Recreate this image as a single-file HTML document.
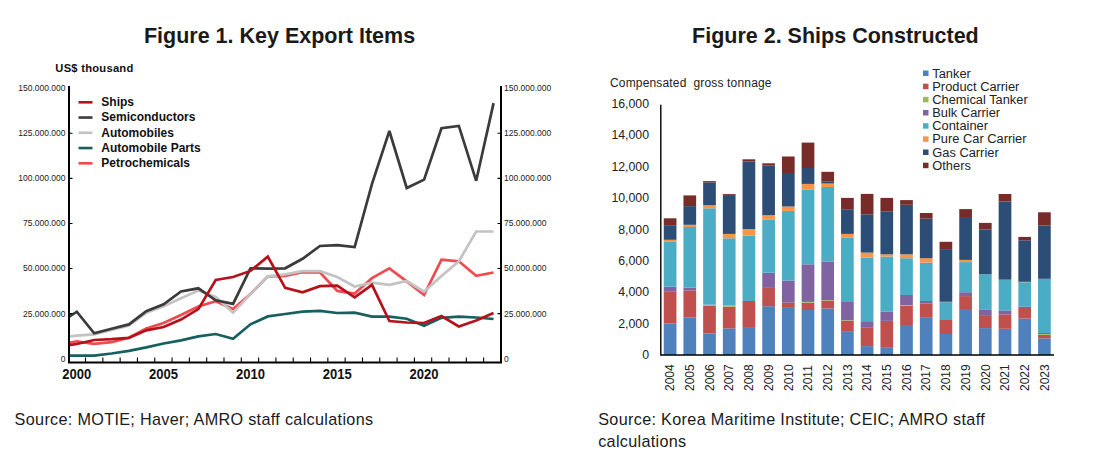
<!DOCTYPE html>
<html><head><meta charset="utf-8"><title>Figures</title>
<style>html,body{margin:0;padding:0;background:#fff;width:1105px;height:460px;overflow:hidden}svg{display:block}</style>
</head><body>
<svg width="1105" height="460" viewBox="0 0 1105 460" font-family='"Liberation Sans", sans-serif'>
<rect width="1105" height="460" fill="#fff"/>
<text x="279.5" y="42.7" text-anchor="middle" font-size="21.5" font-weight="bold" fill="#1a1a1a">Figure 1. Key Export Items</text>
<text x="835.4" y="42.7" text-anchor="middle" font-size="21.5" font-weight="bold" fill="#1a1a1a">Figure 2. Ships Constructed</text>
<defs><clipPath id="lc"><rect x="69.0" y="60" width="432.0" height="302.4"/></clipPath></defs>
<g clip-path="url(#lc)" fill="none" stroke-width="2.7" stroke-linejoin="miter" stroke-miterlimit="3">
<path d="M59.44,344.70 L76.80,341.30 L94.16,343.90 L111.53,342.20 L128.89,337.80 L146.26,328.40 L163.62,323.00 L180.99,315.00 L198.35,306.50 L215.72,301.30 L233.08,309.10 L250.45,294.00 L267.81,276.40 L285.18,276.00 L302.54,272.30 L319.91,272.30 L337.27,290.90 L354.64,293.50 L372.00,278.20 L389.37,268.30 L406.73,281.30 L424.10,294.90 L441.46,259.60 L458.83,261.30 L476.19,275.80 L493.56,272.50" stroke="#EF4A4F"/>
<path d="M59.44,355.60 L76.80,355.60 L94.16,355.70 L111.53,353.50 L128.89,350.90 L146.26,347.40 L163.62,343.50 L180.99,340.40 L198.35,336.40 L215.72,334.00 L233.08,338.70 L250.45,324.30 L267.81,316.40 L285.18,314.00 L302.54,311.70 L319.91,310.90 L337.27,313.00 L354.64,312.60 L372.00,316.60 L389.37,316.60 L406.73,318.70 L424.10,325.70 L441.46,317.80 L458.83,316.60 L476.19,317.50 L493.56,319.00" stroke="#16615F"/>
<path d="M59.44,337.60 L76.80,335.60 L94.16,334.30 L111.53,330.00 L128.89,325.50 L146.26,312.80 L163.62,306.30 L180.99,298.20 L198.35,290.60 L215.72,297.00 L233.08,312.60 L250.45,294.00 L267.81,276.40 L285.18,274.30 L302.54,271.20 L319.91,271.20 L337.27,277.00 L354.64,286.50 L372.00,282.70 L389.37,284.80 L406.73,281.00 L424.10,291.70 L441.46,276.00 L458.83,261.30 L476.19,231.50 L493.56,231.50" stroke="#C3C3C3"/>
<path d="M59.44,323.00 L76.80,311.70 L94.16,333.30 L111.53,328.70 L128.89,324.40 L146.26,311.20 L163.62,304.30 L180.99,291.50 L198.35,288.30 L215.72,300.30 L233.08,303.90 L250.45,268.30 L267.81,268.60 L285.18,268.30 L302.54,258.80 L319.91,246.00 L337.27,245.20 L354.64,247.00 L372.00,183.90 L389.37,131.00 L406.73,188.00 L424.10,179.60 L441.46,128.20 L458.83,125.90 L476.19,180.80 L493.56,103.10" stroke="#3B3B3B"/>
<path d="M59.44,346.60 L76.80,344.00 L94.16,340.00 L111.53,339.20 L128.89,337.80 L146.26,330.30 L163.62,327.00 L180.99,319.60 L198.35,309.10 L215.72,280.00 L233.08,277.00 L250.45,270.90 L267.81,256.60 L285.18,287.90 L302.54,292.30 L319.91,286.20 L337.27,285.70 L354.64,297.30 L372.00,284.80 L389.37,321.00 L406.73,322.50 L424.10,323.00 L441.46,316.00 L458.83,326.50 L476.19,320.40 L493.56,313.00" stroke="#B5121B"/>
</g>
<path d="M69.0,86.0 V362.4 H501.0 V86.0" fill="none" stroke="#000" stroke-width="2"/>
<path d="M69.0,313.62 h3.5 M501.0,313.62 h-3.5 M69.0,268.54 h3.5 M501.0,268.54 h-3.5 M69.0,223.46 h3.5 M501.0,223.46 h-3.5 M69.0,178.38 h3.5 M501.0,178.38 h-3.5 M69.0,133.30 h3.5 M501.0,133.30 h-3.5 M85.51,362.4 v-5 M102.82,362.4 v-5 M120.13,362.4 v-5 M137.44,362.4 v-5 M154.75,362.4 v-5 M172.06,362.4 v-5 M189.37,362.4 v-5 M206.68,362.4 v-5 M223.99,362.4 v-5 M241.30,362.4 v-5 M258.61,362.4 v-5 M275.92,362.4 v-5 M293.23,362.4 v-5 M310.54,362.4 v-5 M327.85,362.4 v-5 M345.16,362.4 v-5 M362.47,362.4 v-5 M379.78,362.4 v-5 M397.09,362.4 v-5 M414.40,362.4 v-5 M431.71,362.4 v-5 M449.02,362.4 v-5 M466.33,362.4 v-5 M483.64,362.4 v-5" stroke="#000" stroke-width="1.1" fill="none"/>
<text x="65.5" y="361.60" text-anchor="end" font-size="8.5" fill="#222">0</text>
<text x="504" y="361.60" font-size="8.5" fill="#222">0</text>
<text x="65.5" y="316.52" text-anchor="end" font-size="8.5" fill="#222">25.000.000</text>
<text x="504" y="316.52" font-size="8.5" fill="#222">25.000.000</text>
<text x="65.5" y="271.44" text-anchor="end" font-size="8.5" fill="#222">50.000.000</text>
<text x="504" y="271.44" font-size="8.5" fill="#222">50.000.000</text>
<text x="65.5" y="226.36" text-anchor="end" font-size="8.5" fill="#222">75.000.000</text>
<text x="504" y="226.36" font-size="8.5" fill="#222">75.000.000</text>
<text x="65.5" y="181.28" text-anchor="end" font-size="8.5" fill="#222">100.000.000</text>
<text x="504" y="181.28" font-size="8.5" fill="#222">100.000.000</text>
<text x="65.5" y="136.20" text-anchor="end" font-size="8.5" fill="#222">125.000.000</text>
<text x="504" y="136.20" font-size="8.5" fill="#222">125.000.000</text>
<text x="65.5" y="91.12" text-anchor="end" font-size="8.5" fill="#222">150.000.000</text>
<text x="504" y="91.12" font-size="8.5" fill="#222">150.000.000</text>
<text x="76.80" y="378.7" text-anchor="middle" font-size="13.8" font-weight="bold" fill="#111" textLength="29" lengthAdjust="spacingAndGlyphs">2000</text>
<text x="163.62" y="378.7" text-anchor="middle" font-size="13.8" font-weight="bold" fill="#111" textLength="29" lengthAdjust="spacingAndGlyphs">2005</text>
<text x="250.45" y="378.7" text-anchor="middle" font-size="13.8" font-weight="bold" fill="#111" textLength="29" lengthAdjust="spacingAndGlyphs">2010</text>
<text x="337.27" y="378.7" text-anchor="middle" font-size="13.8" font-weight="bold" fill="#111" textLength="29" lengthAdjust="spacingAndGlyphs">2015</text>
<text x="424.10" y="378.7" text-anchor="middle" font-size="13.8" font-weight="bold" fill="#111" textLength="29" lengthAdjust="spacingAndGlyphs">2020</text>
<path d="M78.5,102.30 h14" stroke="#B5121B" stroke-width="2.6"/>
<text x="101.3" y="106.10" font-size="12" font-weight="bold" fill="#111">Ships</text>
<path d="M78.5,117.55 h14" stroke="#3B3B3B" stroke-width="2.6"/>
<text x="101.3" y="121.35" font-size="12" font-weight="bold" fill="#111">Semiconductors</text>
<path d="M78.5,132.80 h14" stroke="#C3C3C3" stroke-width="2.6"/>
<text x="101.3" y="136.60" font-size="12" font-weight="bold" fill="#111">Automobiles</text>
<path d="M78.5,148.05 h14" stroke="#16615F" stroke-width="2.6"/>
<text x="101.3" y="151.85" font-size="12" font-weight="bold" fill="#111">Automobile Parts</text>
<path d="M78.5,163.30 h14" stroke="#EF4A4F" stroke-width="2.6"/>
<text x="101.3" y="167.10" font-size="12" font-weight="bold" fill="#111">Petrochemicals</text>
<text x="55.3" y="71.5" font-size="11.2" font-weight="bold" fill="#111" textLength="78" lengthAdjust="spacing">US$ thousand</text>
<rect x="663.75" y="323.50" width="12.7" height="31.50" fill="#4F81BD"/>
<rect x="663.75" y="291.80" width="12.7" height="31.70" fill="#C0504D"/>
<rect x="663.75" y="286.60" width="12.7" height="5.20" fill="#8064A2"/>
<rect x="663.75" y="241.30" width="12.7" height="45.30" fill="#4BACC6"/>
<rect x="663.75" y="239.80" width="12.7" height="1.50" fill="#F79646"/>
<rect x="663.75" y="225.20" width="12.7" height="14.60" fill="#2C4D75"/>
<rect x="663.75" y="218.30" width="12.7" height="6.90" fill="#772C2A"/>
<text transform="translate(674.30,391) rotate(-90)" font-size="12" fill="#222">2004</text>
<rect x="683.45" y="317.30" width="12.7" height="37.70" fill="#4F81BD"/>
<rect x="683.45" y="290.40" width="12.7" height="26.90" fill="#C0504D"/>
<rect x="683.45" y="287.60" width="12.7" height="2.80" fill="#8064A2"/>
<rect x="683.45" y="227.00" width="12.7" height="60.60" fill="#4BACC6"/>
<rect x="683.45" y="224.80" width="12.7" height="2.20" fill="#F79646"/>
<rect x="683.45" y="206.10" width="12.7" height="18.70" fill="#2C4D75"/>
<rect x="683.45" y="195.40" width="12.7" height="10.70" fill="#772C2A"/>
<text transform="translate(694.00,391) rotate(-90)" font-size="12" fill="#222">2005</text>
<rect x="703.15" y="333.40" width="12.7" height="21.60" fill="#4F81BD"/>
<rect x="703.15" y="305.70" width="12.7" height="27.70" fill="#C0504D"/>
<rect x="703.15" y="304.90" width="12.7" height="0.80" fill="#9BBB59"/>
<rect x="703.15" y="304.60" width="12.7" height="0.30" fill="#8064A2"/>
<rect x="703.15" y="208.30" width="12.7" height="96.30" fill="#4BACC6"/>
<rect x="703.15" y="205.20" width="12.7" height="3.10" fill="#F79646"/>
<rect x="703.15" y="182.40" width="12.7" height="22.80" fill="#2C4D75"/>
<rect x="703.15" y="181.10" width="12.7" height="1.30" fill="#772C2A"/>
<text transform="translate(713.70,391) rotate(-90)" font-size="12" fill="#222">2006</text>
<rect x="722.85" y="328.30" width="12.7" height="26.70" fill="#4F81BD"/>
<rect x="722.85" y="306.60" width="12.7" height="21.70" fill="#C0504D"/>
<rect x="722.85" y="305.60" width="12.7" height="1.00" fill="#9BBB59"/>
<rect x="722.85" y="305.40" width="12.7" height="0.20" fill="#8064A2"/>
<rect x="722.85" y="238.30" width="12.7" height="67.10" fill="#4BACC6"/>
<rect x="722.85" y="233.90" width="12.7" height="4.40" fill="#F79646"/>
<rect x="722.85" y="195.90" width="12.7" height="38.00" fill="#2C4D75"/>
<rect x="722.85" y="194.10" width="12.7" height="1.80" fill="#772C2A"/>
<text transform="translate(733.40,391) rotate(-90)" font-size="12" fill="#222">2007</text>
<rect x="742.55" y="327.90" width="12.7" height="27.10" fill="#4F81BD"/>
<rect x="742.55" y="301.00" width="12.7" height="26.90" fill="#C0504D"/>
<rect x="742.55" y="235.70" width="12.7" height="65.30" fill="#4BACC6"/>
<rect x="742.55" y="229.00" width="12.7" height="6.70" fill="#F79646"/>
<rect x="742.55" y="161.50" width="12.7" height="67.50" fill="#2C4D75"/>
<rect x="742.55" y="159.30" width="12.7" height="2.20" fill="#772C2A"/>
<text transform="translate(753.10,391) rotate(-90)" font-size="12" fill="#222">2008</text>
<rect x="762.25" y="306.20" width="12.7" height="48.80" fill="#4F81BD"/>
<rect x="762.25" y="287.90" width="12.7" height="18.30" fill="#C0504D"/>
<rect x="762.25" y="272.70" width="12.7" height="15.20" fill="#8064A2"/>
<rect x="762.25" y="219.80" width="12.7" height="52.90" fill="#4BACC6"/>
<rect x="762.25" y="215.20" width="12.7" height="4.60" fill="#F79646"/>
<rect x="762.25" y="165.40" width="12.7" height="49.80" fill="#2C4D75"/>
<rect x="762.25" y="163.30" width="12.7" height="2.10" fill="#772C2A"/>
<text transform="translate(772.80,391) rotate(-90)" font-size="12" fill="#222">2009</text>
<rect x="781.95" y="307.90" width="12.7" height="47.10" fill="#4F81BD"/>
<rect x="781.95" y="302.70" width="12.7" height="5.20" fill="#C0504D"/>
<rect x="781.95" y="280.50" width="12.7" height="22.20" fill="#8064A2"/>
<rect x="781.95" y="210.90" width="12.7" height="69.60" fill="#4BACC6"/>
<rect x="781.95" y="206.50" width="12.7" height="4.40" fill="#F79646"/>
<rect x="781.95" y="173.00" width="12.7" height="33.50" fill="#2C4D75"/>
<rect x="781.95" y="156.50" width="12.7" height="16.50" fill="#772C2A"/>
<text transform="translate(792.50,391) rotate(-90)" font-size="12" fill="#222">2010</text>
<rect x="801.65" y="310.00" width="12.7" height="45.00" fill="#4F81BD"/>
<rect x="801.65" y="302.70" width="12.7" height="7.30" fill="#C0504D"/>
<rect x="801.65" y="301.90" width="12.7" height="0.80" fill="#9BBB59"/>
<rect x="801.65" y="264.30" width="12.7" height="37.60" fill="#8064A2"/>
<rect x="801.65" y="189.80" width="12.7" height="74.50" fill="#4BACC6"/>
<rect x="801.65" y="183.90" width="12.7" height="5.90" fill="#F79646"/>
<rect x="801.65" y="168.00" width="12.7" height="15.90" fill="#2C4D75"/>
<rect x="801.65" y="142.60" width="12.7" height="25.40" fill="#772C2A"/>
<text transform="translate(812.20,391) rotate(-90)" font-size="12" fill="#222">2011</text>
<rect x="821.35" y="308.50" width="12.7" height="46.50" fill="#4F81BD"/>
<rect x="821.35" y="300.50" width="12.7" height="8.00" fill="#C0504D"/>
<rect x="821.35" y="300.00" width="12.7" height="0.50" fill="#9BBB59"/>
<rect x="821.35" y="261.80" width="12.7" height="38.20" fill="#8064A2"/>
<rect x="821.35" y="187.00" width="12.7" height="74.80" fill="#4BACC6"/>
<rect x="821.35" y="183.50" width="12.7" height="3.50" fill="#F79646"/>
<rect x="821.35" y="181.70" width="12.7" height="1.80" fill="#2C4D75"/>
<rect x="821.35" y="171.80" width="12.7" height="9.90" fill="#772C2A"/>
<text transform="translate(831.90,391) rotate(-90)" font-size="12" fill="#222">2012</text>
<rect x="841.05" y="331.80" width="12.7" height="23.20" fill="#4F81BD"/>
<rect x="841.05" y="320.90" width="12.7" height="10.90" fill="#C0504D"/>
<rect x="841.05" y="320.30" width="12.7" height="0.60" fill="#9BBB59"/>
<rect x="841.05" y="302.00" width="12.7" height="18.30" fill="#8064A2"/>
<rect x="841.05" y="237.80" width="12.7" height="64.20" fill="#4BACC6"/>
<rect x="841.05" y="233.90" width="12.7" height="3.90" fill="#F79646"/>
<rect x="841.05" y="209.20" width="12.7" height="24.70" fill="#2C4D75"/>
<rect x="841.05" y="197.90" width="12.7" height="11.30" fill="#772C2A"/>
<text transform="translate(851.60,391) rotate(-90)" font-size="12" fill="#222">2013</text>
<rect x="860.75" y="346.10" width="12.7" height="8.90" fill="#4F81BD"/>
<rect x="860.75" y="327.80" width="12.7" height="18.30" fill="#C0504D"/>
<rect x="860.75" y="321.20" width="12.7" height="6.60" fill="#8064A2"/>
<rect x="860.75" y="257.50" width="12.7" height="63.70" fill="#4BACC6"/>
<rect x="860.75" y="252.60" width="12.7" height="4.90" fill="#F79646"/>
<rect x="860.75" y="214.30" width="12.7" height="38.30" fill="#2C4D75"/>
<rect x="860.75" y="193.90" width="12.7" height="20.40" fill="#772C2A"/>
<text transform="translate(871.30,391) rotate(-90)" font-size="12" fill="#222">2014</text>
<rect x="880.45" y="347.80" width="12.7" height="7.20" fill="#4F81BD"/>
<rect x="880.45" y="320.90" width="12.7" height="26.90" fill="#C0504D"/>
<rect x="880.45" y="311.80" width="12.7" height="9.10" fill="#8064A2"/>
<rect x="880.45" y="256.60" width="12.7" height="55.20" fill="#4BACC6"/>
<rect x="880.45" y="254.30" width="12.7" height="2.30" fill="#F79646"/>
<rect x="880.45" y="211.70" width="12.7" height="42.60" fill="#2C4D75"/>
<rect x="880.45" y="197.90" width="12.7" height="13.80" fill="#772C2A"/>
<text transform="translate(891.00,391) rotate(-90)" font-size="12" fill="#222">2015</text>
<rect x="900.15" y="325.00" width="12.7" height="30.00" fill="#4F81BD"/>
<rect x="900.15" y="305.70" width="12.7" height="19.30" fill="#C0504D"/>
<rect x="900.15" y="305.20" width="12.7" height="0.50" fill="#9BBB59"/>
<rect x="900.15" y="295.00" width="12.7" height="10.20" fill="#8064A2"/>
<rect x="900.15" y="258.20" width="12.7" height="36.80" fill="#4BACC6"/>
<rect x="900.15" y="254.30" width="12.7" height="3.90" fill="#F79646"/>
<rect x="900.15" y="204.80" width="12.7" height="49.50" fill="#2C4D75"/>
<rect x="900.15" y="200.10" width="12.7" height="4.70" fill="#772C2A"/>
<text transform="translate(910.70,391) rotate(-90)" font-size="12" fill="#222">2016</text>
<rect x="919.85" y="317.80" width="12.7" height="37.20" fill="#4F81BD"/>
<rect x="919.85" y="303.60" width="12.7" height="14.20" fill="#C0504D"/>
<rect x="919.85" y="301.00" width="12.7" height="2.60" fill="#8064A2"/>
<rect x="919.85" y="262.60" width="12.7" height="38.40" fill="#4BACC6"/>
<rect x="919.85" y="258.20" width="12.7" height="4.40" fill="#F79646"/>
<rect x="919.85" y="218.70" width="12.7" height="39.50" fill="#2C4D75"/>
<rect x="919.85" y="213.00" width="12.7" height="5.70" fill="#772C2A"/>
<text transform="translate(930.40,391) rotate(-90)" font-size="12" fill="#222">2017</text>
<rect x="939.55" y="334.00" width="12.7" height="21.00" fill="#4F81BD"/>
<rect x="939.55" y="320.00" width="12.7" height="14.00" fill="#C0504D"/>
<rect x="939.55" y="302.10" width="12.7" height="17.90" fill="#4BACC6"/>
<rect x="939.55" y="301.80" width="12.7" height="0.30" fill="#F79646"/>
<rect x="939.55" y="249.10" width="12.7" height="52.70" fill="#2C4D75"/>
<rect x="939.55" y="241.80" width="12.7" height="7.30" fill="#772C2A"/>
<text transform="translate(950.10,391) rotate(-90)" font-size="12" fill="#222">2018</text>
<rect x="959.25" y="309.00" width="12.7" height="46.00" fill="#4F81BD"/>
<rect x="959.25" y="296.10" width="12.7" height="12.90" fill="#C0504D"/>
<rect x="959.25" y="292.20" width="12.7" height="3.90" fill="#8064A2"/>
<rect x="959.25" y="262.10" width="12.7" height="30.10" fill="#4BACC6"/>
<rect x="959.25" y="259.90" width="12.7" height="2.20" fill="#F79646"/>
<rect x="959.25" y="217.00" width="12.7" height="42.90" fill="#2C4D75"/>
<rect x="959.25" y="209.10" width="12.7" height="7.90" fill="#772C2A"/>
<text transform="translate(969.80,391) rotate(-90)" font-size="12" fill="#222">2019</text>
<rect x="978.95" y="328.10" width="12.7" height="26.90" fill="#4F81BD"/>
<rect x="978.95" y="315.10" width="12.7" height="13.00" fill="#C0504D"/>
<rect x="978.95" y="309.90" width="12.7" height="5.20" fill="#8064A2"/>
<rect x="978.95" y="274.30" width="12.7" height="35.60" fill="#4BACC6"/>
<rect x="978.95" y="229.40" width="12.7" height="44.90" fill="#2C4D75"/>
<rect x="978.95" y="222.90" width="12.7" height="6.50" fill="#772C2A"/>
<text transform="translate(989.50,391) rotate(-90)" font-size="12" fill="#222">2020</text>
<rect x="998.65" y="328.80" width="12.7" height="26.20" fill="#4F81BD"/>
<rect x="998.65" y="314.40" width="12.7" height="14.40" fill="#C0504D"/>
<rect x="998.65" y="310.40" width="12.7" height="4.00" fill="#8064A2"/>
<rect x="998.65" y="280.00" width="12.7" height="30.40" fill="#4BACC6"/>
<rect x="998.65" y="279.70" width="12.7" height="0.30" fill="#F79646"/>
<rect x="998.65" y="201.50" width="12.7" height="78.20" fill="#2C4D75"/>
<rect x="998.65" y="194.00" width="12.7" height="7.50" fill="#772C2A"/>
<text transform="translate(1009.20,391) rotate(-90)" font-size="12" fill="#222">2021</text>
<rect x="1018.35" y="318.60" width="12.7" height="36.40" fill="#4F81BD"/>
<rect x="1018.35" y="307.00" width="12.7" height="11.60" fill="#C0504D"/>
<rect x="1018.35" y="306.80" width="12.7" height="0.20" fill="#8064A2"/>
<rect x="1018.35" y="282.20" width="12.7" height="24.60" fill="#4BACC6"/>
<rect x="1018.35" y="281.80" width="12.7" height="0.40" fill="#F79646"/>
<rect x="1018.35" y="240.30" width="12.7" height="41.50" fill="#2C4D75"/>
<rect x="1018.35" y="236.90" width="12.7" height="3.40" fill="#772C2A"/>
<text transform="translate(1028.90,391) rotate(-90)" font-size="12" fill="#222">2022</text>
<rect x="1038.05" y="338.30" width="12.7" height="16.70" fill="#4F81BD"/>
<rect x="1038.05" y="334.80" width="12.7" height="3.50" fill="#C0504D"/>
<rect x="1038.05" y="334.00" width="12.7" height="0.80" fill="#9BBB59"/>
<rect x="1038.05" y="333.00" width="12.7" height="1.00" fill="#8064A2"/>
<rect x="1038.05" y="278.80" width="12.7" height="54.20" fill="#4BACC6"/>
<rect x="1038.05" y="225.40" width="12.7" height="53.40" fill="#2C4D75"/>
<rect x="1038.05" y="212.30" width="12.7" height="13.10" fill="#772C2A"/>
<text transform="translate(1048.60,391) rotate(-90)" font-size="12" fill="#222">2023</text>
<path d="M660.8,104.8 V355.0 H1054.0" fill="none" stroke="#000" stroke-width="1.4"/>
<text x="649" y="359.30" text-anchor="end" font-size="12.3" fill="#222">0</text>
<text x="649" y="327.86" text-anchor="end" font-size="12.3" fill="#222">2,000</text>
<text x="649" y="296.42" text-anchor="end" font-size="12.3" fill="#222">4,000</text>
<text x="649" y="264.98" text-anchor="end" font-size="12.3" fill="#222">6,000</text>
<text x="649" y="233.54" text-anchor="end" font-size="12.3" fill="#222">8,000</text>
<text x="649" y="202.10" text-anchor="end" font-size="12.3" fill="#222">10,000</text>
<text x="649" y="170.66" text-anchor="end" font-size="12.3" fill="#222">12,000</text>
<text x="649" y="139.22" text-anchor="end" font-size="12.3" fill="#222">14,000</text>
<text x="649" y="107.78" text-anchor="end" font-size="12.3" fill="#222">16,000</text>
<text x="610" y="86.8" font-size="12" fill="#222" textLength="161.5" lengthAdjust="spacing">Compensated&#160; gross tonnage</text>
<rect x="923" y="70.50" width="5.5" height="5.5" fill="#4F81BD"/>
<text x="932.3" y="77.60" font-size="12.85" fill="#222">Tanker</text>
<rect x="923" y="83.67" width="5.5" height="5.5" fill="#C0504D"/>
<text x="932.3" y="90.77" font-size="12.85" fill="#222">Product Carrier</text>
<rect x="923" y="96.84" width="5.5" height="5.5" fill="#9BBB59"/>
<text x="932.3" y="103.94" font-size="12.85" fill="#222">Chemical Tanker</text>
<rect x="923" y="110.01" width="5.5" height="5.5" fill="#8064A2"/>
<text x="932.3" y="117.11" font-size="12.85" fill="#222">Bulk Carrier</text>
<rect x="923" y="123.18" width="5.5" height="5.5" fill="#4BACC6"/>
<text x="932.3" y="130.28" font-size="12.85" fill="#222">Container</text>
<rect x="923" y="136.35" width="5.5" height="5.5" fill="#F79646"/>
<text x="932.3" y="143.45" font-size="12.85" fill="#222">Pure Car Carrier</text>
<rect x="923" y="149.52" width="5.5" height="5.5" fill="#2C4D75"/>
<text x="932.3" y="156.62" font-size="12.85" fill="#222">Gas Carrier</text>
<rect x="923" y="162.69" width="5.5" height="5.5" fill="#772C2A"/>
<text x="932.3" y="169.79" font-size="12.85" fill="#222">Others</text>
<text x="14.6" y="424.9" font-size="16.2" fill="#1a1a1a" textLength="358.5" lengthAdjust="spacing">Source: MOTIE; Haver; AMRO staff calculations</text>
<text x="598.2" y="425.2" font-size="16.2" fill="#1a1a1a" textLength="386.5" lengthAdjust="spacing">Source: Korea Maritime Institute; CEIC; AMRO staff</text>
<text x="598.2" y="447.1" font-size="16.2" fill="#1a1a1a" textLength="88" lengthAdjust="spacing">calculations</text>
</svg>
</body></html>
